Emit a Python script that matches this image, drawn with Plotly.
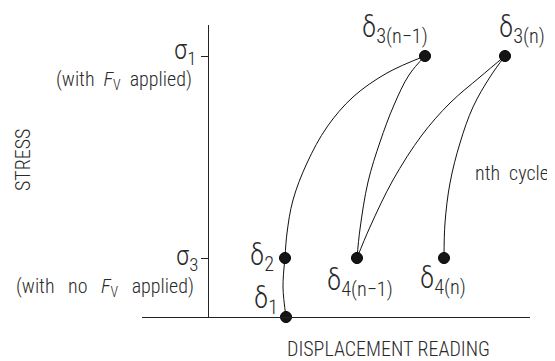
import plotly.graph_objects as go

# stress / displacement in arbitrary units (origin where the two axes meet)
x_range = [-66, 322]
y_range = [0, 292]

sigma1 = 261
sigma3 = 59

# cycle points
pt_names = ["δ1", "δ2", "δ3(n-1)", "δ4(n-1)", "δ3(n)", "δ4(n)"]
pt_disp = [78, 77, 217, 149, 297, 236]
pt_stress = [0, 59, 261, 59, 261, 59]

# curves
seg1_x = [78, 75, 77]
seg1_y = [0, 30, 59]

load_x = [77, 79, 85, 99, 119, 145, 179, 217]
load_y = [59, 84, 117, 154, 190, 220, 244, 261]

unload1_x = [149, 152, 160, 172, 186, 201, 217]
unload1_y = [59, 88, 135, 175, 212, 242, 261]

reload_x = [149, 162, 185, 214, 242, 272, 297]
reload_y = [59, 90, 137, 182, 214, 240, 261]

unload2_x = [236, 237, 242, 252, 265, 282, 297]
unload2_y = [59, 94, 134, 174, 210, 240, 261]

FONT = "Roboto Condensed, Roboto, sans-serif"
TXT = "#2a2a2a"


def px(x):
    return (x - x_range[0]) / (x_range[1] - x_range[0])


def py(y):
    return (y - y_range[0]) / (y_range[1] - y_range[0])


fig = go.Figure()

for xs, ys in [(seg1_x, seg1_y), (load_x, load_y), (unload1_x, unload1_y),
               (reload_x, reload_y), (unload2_x, unload2_y)]:
    fig.add_trace(go.Scatter(
        x=xs, y=ys, mode="lines",
        line=dict(color="#111111", width=1, shape="spline", smoothing=1.0),
        hoverinfo="skip", showlegend=False, cliponaxis=False
    ))

fig.add_trace(go.Scatter(
    x=pt_disp, y=pt_stress, mode="markers", text=pt_names,
    marker=dict(size=11, color="#151515", line=dict(color="#000000", width=1)),
    showlegend=False, cliponaxis=False
))

def delta(sub):
    return f"δ<sub>{sub}</sub>"

labels = [
    (delta("1"), 58, 17),
    (delta("2"), 54, 60),
    (delta("3(n−1)"), 187, 288),
    (delta("3(n)"), 314, 288),
    (delta("4(n−1)"), 152, 35),
    (delta("4(n)"), 235, 37),
]
for text, x, y in labels:
    fig.add_annotation(x=x, y=y, text=text, showarrow=False,
                       font=dict(family=FONT, size=29, color=TXT, weight=300),
                       xanchor="center", yanchor="middle")

fig.add_annotation(x=-10, y=265, text="σ<sub>1</sub>", showarrow=False,
                   font=dict(family=FONT, size=27, color=TXT, weight=300),
                   xanchor="right", yanchor="middle")
fig.add_annotation(x=-14, y=237, text="(with  <i>F</i><sub>V</sub>  applied)",
                   showarrow=False, font=dict(family=FONT, size=20, color=TXT, weight=300),
                   xanchor="right", yanchor="middle")
fig.add_annotation(x=-8, y=59, text="σ<sub>3</sub>", showarrow=False,
                   font=dict(family=FONT, size=27, color=TXT, weight=300),
                   xanchor="right", yanchor="middle")
fig.add_annotation(x=-12, y=30, text="(with   no   <i>F</i><sub>V</sub>   applied)",
                   showarrow=False, font=dict(family=FONT, size=20, color=TXT, weight=300),
                   xanchor="right", yanchor="middle")

fig.add_annotation(x=265, y=144, text="nth  cycle", showarrow=False,
                   font=dict(family=FONT, size=20, color=TXT, weight=300),
                   xanchor="left", yanchor="middle")

# axis titles (paper refs, data-ref annotations off the range get hidden)
fig.add_annotation(x=px(180), y=py(-32), xref="paper", yref="paper",
                   text="DISPLACEMENT READING", showarrow=False,
                   font=dict(family=FONT, size=20, color=TXT, weight=300),
                   xanchor="center", yanchor="middle")
fig.add_annotation(x=px(-185), y=py(157), xref="paper", yref="paper",
                   text="STRESS", showarrow=False, textangle=-90,
                   font=dict(family=FONT, size=20, color=TXT, weight=300),
                   xanchor="center", yanchor="middle")

# the page puts the plot 8 px in from the corner, so the figure is that much smaller
fig.update_layout(
    width=547, height=353,
    margin=dict(l=134, r=25, t=17, b=44),
    paper_bgcolor="white", plot_bgcolor="white",
    xaxis=dict(range=x_range, showline=True, linecolor="#222222", linewidth=1,
               showgrid=False, zeroline=False, showticklabels=False, ticks=""),
    yaxis=dict(range=y_range, anchor="free",
               position=px(0),
               showline=True, linecolor="#222222", linewidth=1,
               ticks="outside", ticklen=7, tickcolor="#222222",
               tickvals=[sigma3, sigma1], showticklabels=False,
               showgrid=False, zeroline=False),
)

fig.write_html("out.html")
